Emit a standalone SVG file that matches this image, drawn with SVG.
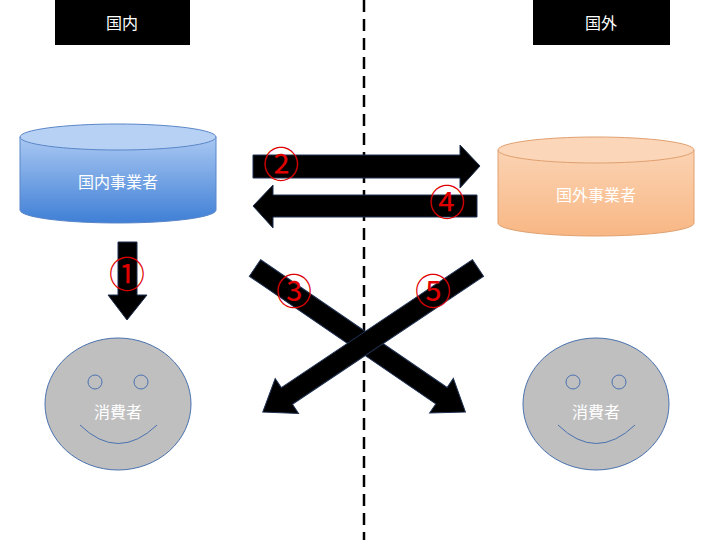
<svg xmlns="http://www.w3.org/2000/svg" width="720" height="540" viewBox="0 0 720 540">
<defs>
<linearGradient id="gb" x1="0" y1="0" x2="0" y2="1"><stop offset="0" stop-color="#A9C8F2"/><stop offset="1" stop-color="#3F7FD6"/></linearGradient>
<linearGradient id="go" x1="0" y1="0" x2="0" y2="1"><stop offset="0" stop-color="#FBD3B3"/><stop offset="1" stop-color="#F8B784"/></linearGradient>
</defs>
<style>
.t{font-family:"Noto Sans CJK JP","Noto Sans",sans-serif;fill:#fff;font-size:16px;text-anchor:middle}
.n{font-family:"Noto Sans CJK JP","Noto Sans",sans-serif;fill:#E00000;font-size:36px;text-anchor:middle}
.ar{fill:#000;stroke:#1f3050;stroke-width:1}
.face{fill:#BFBFBF;stroke:#4a72b0;stroke-width:1}
</style>
<rect width="720" height="540" fill="#fff"/>
<line x1="364" y1="0" x2="364" y2="540" stroke="#000" stroke-width="2.5" stroke-dasharray="12,7"/>
<g id="hdr-domestic"><rect x="55" y="0" width="135" height="45" fill="#000"/><text class="t" x="122" y="29">国内</text></g>
<g id="hdr-foreign"><rect x="533" y="0" width="137" height="45" fill="#000"/><text class="t" x="601" y="29">国外</text></g>
<g id="dom-biz">
<path d="M20,137 V210 A98,13 0 0 0 216,210 V137 Z" fill="url(#gb)" stroke="#5a86c8"/>
<ellipse cx="118" cy="137" rx="98" ry="13" fill="#B7D1F4" stroke="#5a86c8"/>
<text class="t" x="118" y="188">国内事業者</text></g>
<g id="for-biz">
<path d="M498,150 V223 A98,13 0 0 0 694,223 V150 Z" fill="url(#go)" stroke="#e0a070"/>
<ellipse cx="596" cy="150" rx="98" ry="13" fill="#FCD6B8" stroke="#e0a070"/>
<text class="t" x="596" y="201">国外事業者</text></g>
<g id="cons-dom">
<ellipse class="face" cx="118" cy="404" rx="73" ry="66"/>
<circle class="face" cx="95" cy="382" r="7"/><circle class="face" cx="141" cy="382" r="7"/>
<path d="M80,425 Q118,462 157,425" fill="none" stroke="#4a72b0"/>
<text class="t" x="118" y="418">消費者</text></g>
<g id="cons-for">
<ellipse class="face" cx="596" cy="404" rx="73" ry="66"/>
<circle class="face" cx="573" cy="382" r="7"/><circle class="face" cx="619" cy="382" r="7"/>
<path d="M558,425 Q596,462 635,425" fill="none" stroke="#4a72b0"/>
<text class="t" x="596" y="418">消費者</text></g>
<g id="connectors">
<polygon class="ar" points="118,242 137,242 137,295 147,295 127,320 108,295 118,295"/>
<polygon class="ar" points="253,155 460,155 460,145 480,166 460,188 460,178 253,178"/>
<polygon class="ar" points="477,195 273,195 273,185 253,206 273,228 273,217 477,217"/>
<polygon class="ar" transform="translate(255,268) rotate(34.4)" points="0,-10 226,-10 226,-21 255,0 226,21 226,10 0,10"/>
<polygon class="ar" transform="translate(478,268) rotate(146.2)" points="0,-10 230,-10 230,-21 259,0 230,21 230,10 0,10"/>
<text class="n" x="127" y="288">①</text>
<text class="n" x="281" y="178">②</text>
<text class="n" x="294" y="305">③</text>
<text class="n" x="447" y="216">④</text>
<text class="n" x="433" y="305">⑤</text>
</g>
</svg>
